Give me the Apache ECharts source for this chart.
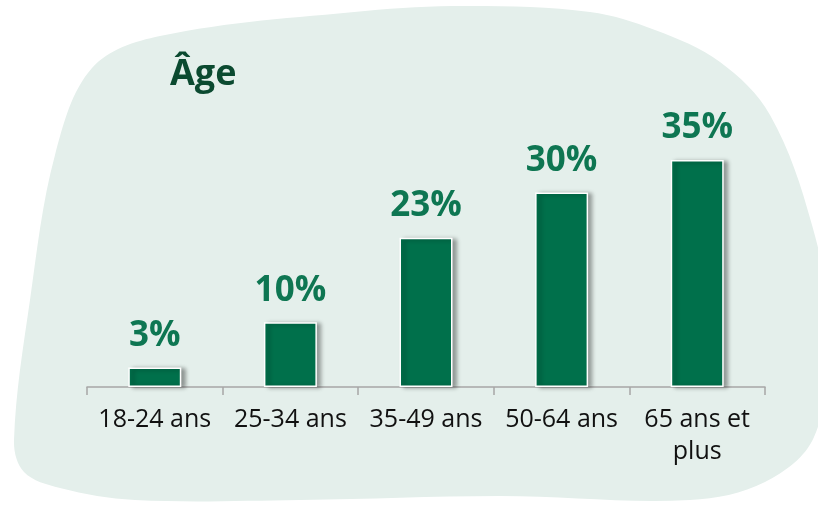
<!DOCTYPE html>
<html>
<head>
<meta charset="utf-8">
<script src="https://cdn.jsdelivr.net/npm/echarts@6/dist/echarts.min.js"></script>
<style>
  html, body { margin: 0; padding: 0; background: #fff; }
  #chart { width: 818px; height: 512px; }
</style>
</head>
<body>
<div id="chart"></div>
<script>
var categories = ['18-24 ans', '25-34 ans', '35-49 ans', '50-64 ans', '65 ans et\nplus'];
var values = [3, 10, 23, 30, 35];
var titleText = 'Âge';

var chart = echarts.init(document.getElementById('chart'));

var option = {
  backgroundColor: '#ffffff',
  graphic: [
    {
      // light green blob behind the chart
      type: 'polygon',
      z: -10,
      shape: {
        smooth: 0.35,
        points: [
          [14, 440], [30, 300], [55, 155], [92, 68], [160, 36],
          [365, 11], [470, 6], [590, 12], [655, 30], [720, 62],
          [770, 115], [812, 225], [830, 330], [814, 437], [765, 482],
          [690, 500], [500, 496], [300, 500], [135, 500], [60, 488], [24, 472]
        ]
      },
      style: { fill: '#e4efeb' }
    }
  ],
  title: {
    text: titleText,
    left: 165,
    top: 52,
    textStyle: {
      fontFamily: 'Open Sans',
      fontWeight: 'bold',
      fontSize: 36,
      color: '#0b4a30'
    }
  },
  grid: { left: 87, right: 53, top: 160, bottom: 125 },
  xAxis: {
    type: 'category',
    data: categories,
    axisLine: { lineStyle: { color: '#a6a6a6', width: 1.5 } },
    axisTick: { show: true, length: 8, lineStyle: { color: '#a6a6a6', width: 1.5 } },
    axisLabel: {
      interval: 0,
      margin: 17,
      fontFamily: 'Open Sans',
      fontSize: 25,
      lineHeight: 32,
      color: '#111111'
    }
  },
  yAxis: {
    type: 'value',
    min: 0,
    max: 35,
    show: false,
    splitLine: { show: false }
  },
  series: [
    {
      type: 'bar',
      data: values,
      barWidth: 53,
      itemStyle: {
        color: '#00704b',
        borderColor: '#ffffff',
        borderWidth: 1.5,
        shadowColor: 'rgba(0,0,0,0.35)',
        shadowBlur: 4,
        shadowOffsetX: 4,
        shadowOffsetY: 1
      },
      label: {
        show: true,
        position: 'top',
        distance: 14,
        formatter: '{c}%',
        fontFamily: 'Open Sans',
        fontWeight: 'bold',
        fontSize: 35,
        color: '#0e7652'
      }
    }
  ]
};

chart.setOption(option);
</script>
</body>
</html>
